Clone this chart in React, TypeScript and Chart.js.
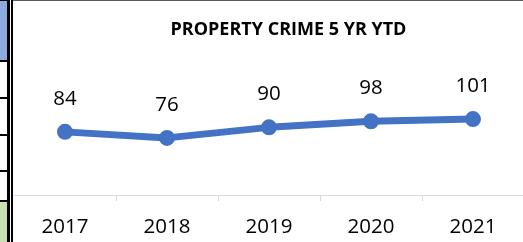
import React, { useEffect, useRef } from "react";
import { Chart, registerables } from "chart.js";

Chart.register(...registerables);

const categories: string[] = ["2017", "2018", "2019", "2020", "2021"];
const values: number[] = [84, 76, 90, 98, 101];
const chartTitle = "PROPERTY CRIME 5 YR YTD";
const yMin = 0;
const yMax = 200;

const LINE_COLOR = "#4472C4";
const FONT = "'Open Sans', 'Liberation Sans', sans-serif";

const dataLabelPlugin = {
  id: "dataLabels",
  afterDatasetsDraw(chart: any) {
    const ctx = chart.ctx;
    const meta = chart.getDatasetMeta(0);
    const ds = chart.data.datasets[0];
    ctx.save();
    ctx.font = `20.5px ${FONT}`;
    ctx.fillStyle = "#000";
    ctx.textAlign = "center";
    ctx.textBaseline = "middle";
    meta.data.forEach((pt: any, i: number) => {
      ctx.fillText(String(ds.data[i]), pt.x, pt.y - 33);
    });
    ctx.restore();
  },
};

export default function App() {
  const ref = useRef<HTMLCanvasElement>(null);

  useEffect(() => {
    if (!ref.current) return;
    const chart = new Chart(ref.current, {
      type: "line",
      data: {
        labels: categories,
        datasets: [
          {
            data: values,
            borderColor: LINE_COLOR,
            backgroundColor: LINE_COLOR,
            borderWidth: 7,
            pointRadius: 7,
            pointBorderWidth: 2,
            pointBackgroundColor: LINE_COLOR,
            pointBorderColor: LINE_COLOR,
            tension: 0,
            borderCapStyle: "round",
            borderJoinStyle: "round",
          },
        ],
      },
      options: {
        responsive: false,
        animation: false,
        layout: { autoPadding: false, padding: 0 },
        plugins: {
          legend: { display: false },
          tooltip: { enabled: false },
          title: {
            display: true,
            text: chartTitle,
            color: "#000",
            font: { family: FONT, size: 18, weight: "bold" },
            padding: { top: 18.9, bottom: 4.2 },
          },
        },
        scales: {
          x: {
            offset: true,
            grid: {
              offset: true,
              drawOnChartArea: false,
              tickLength: 6,
              lineWidth: 1,
              color: (c: any) => (c.index === 0 ? "rgba(0,0,0,0)" : "#D9D9D9"),
            },
            border: { display: true, color: "#D9D9D9", width: 1 },
            ticks: {
              color: "#000",
              font: { family: FONT, size: 20.5 },
              padding: 13.7,
              maxRotation: 0,
              autoSkip: false,
            },
          },
          y: {
            display: true,
            position: "right",
            min: yMin,
            max: yMax,
            grid: { display: false },
            border: { display: false },
            ticks: { display: false },
            afterFit: (s: any) => {
              s.width = 39;
            },
          },
        },
      },
      plugins: [dataLabelPlugin],
    });
    return () => chart.destroy();
  }, []);

  const abs = (s: React.CSSProperties): React.CSSProperties => ({ position: "absolute", ...s });

  return (
    <div
      style={{
        position: "fixed",
        left: 0,
        top: 0,
        width: 523,
        height: 242,
        overflow: "hidden",
        background: "#fff",
      }}
    >
      {/* spreadsheet strip on the left */}
      <div style={abs({ left: 0, top: 0, width: 7, height: 60, background: "#8EA9DB" })} />
      <div style={abs({ left: 0, top: 202, width: 7, height: 40, background: "#C6E0B4" })} />
      <div style={abs({ left: 0, top: 0, width: 8, height: 1, background: "#000" })} />
      {[60, 97, 134, 170, 200].map((y) => (
        <div key={y} style={abs({ left: 0, top: y, width: 8, height: 2, background: "#000" })} />
      ))}
      <div style={abs({ left: 7, top: 0, width: 3, height: 242, background: "#000" })} />
      <div style={abs({ left: 11, top: 0, width: 2, height: 242, background: "#000" })} />
      {/* chart */}
      <div style={abs({ left: 14, top: 0, width: 509, height: 242, overflow: "hidden" })}>
        <canvas ref={ref} width={549} height={253} style={{ display: "block" }} />
      </div>
      <div style={abs({ left: 13, top: 0, width: 510, height: 1, background: "#595959" })} />
    </div>
  );
}
